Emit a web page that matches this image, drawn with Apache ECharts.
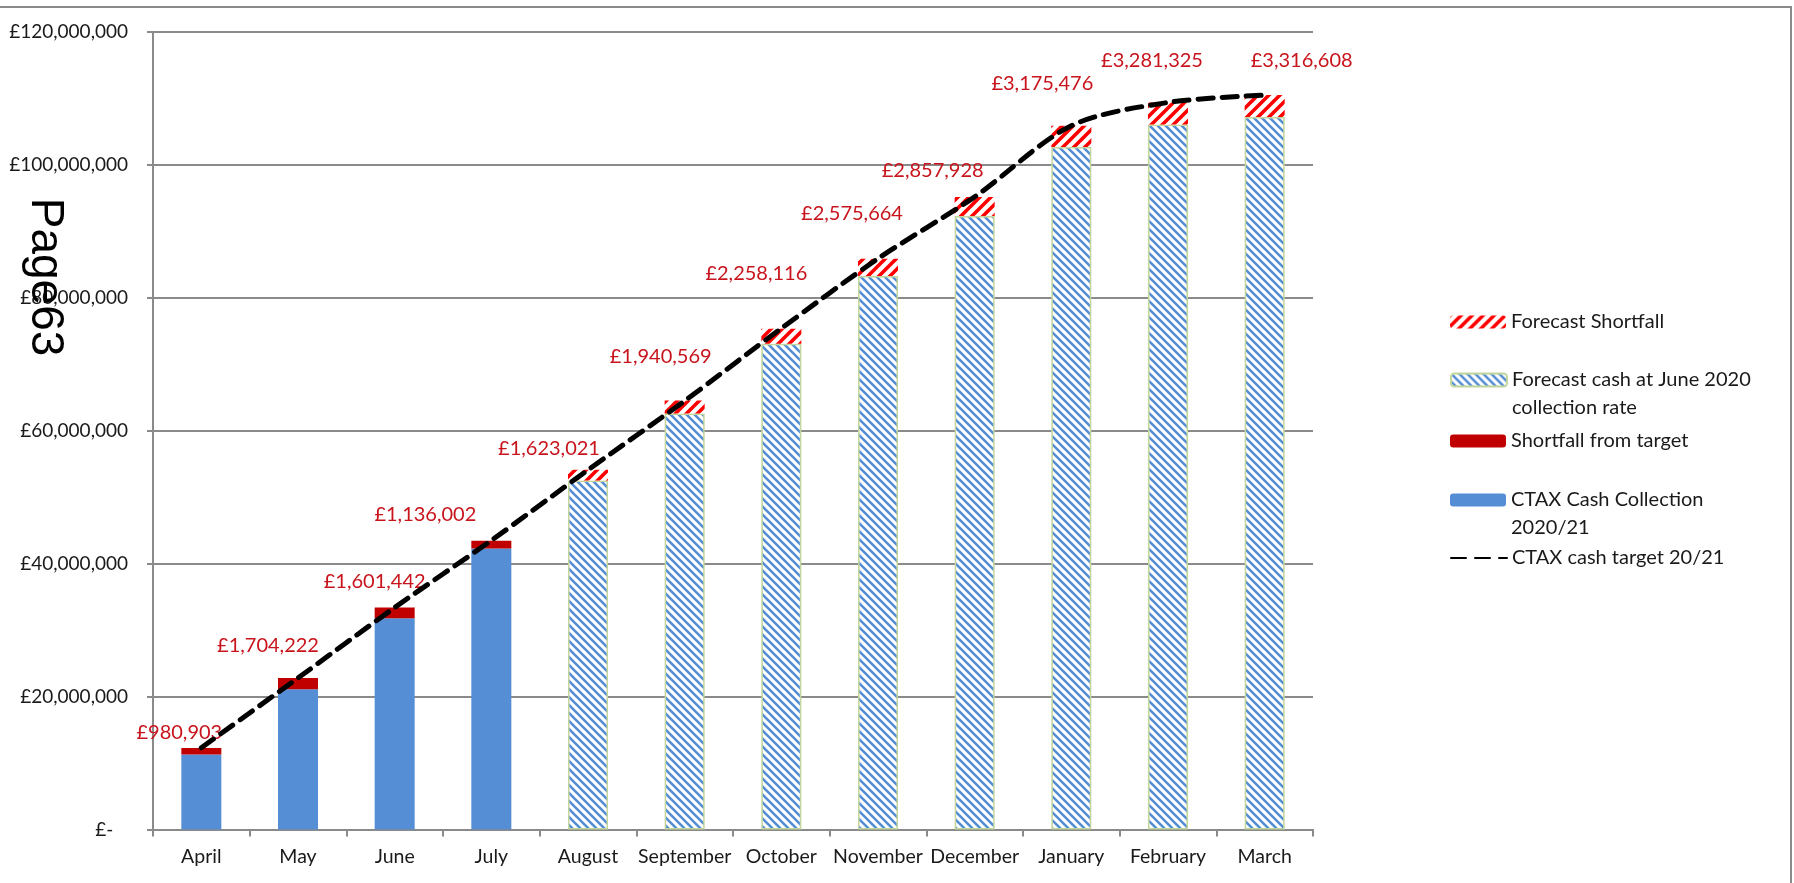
<!DOCTYPE html>
<html>
<head>
<meta charset="utf-8">
<script src="https://cdn.jsdelivr.net/npm/echarts@6/dist/echarts.min.js"></script>
<style>
  html, body { margin: 0; padding: 0; background: #fff; }
  #chart { width: 1794px; height: 883px; }
</style>
</head>
<body>
<div id="chart"></div>
<script>
// months of the 2020/21 council tax year
var months = ['April', 'May', 'June', 'July', 'August', 'September', 'October',
  'November', 'December', 'January', 'February', 'March'];

// actual cash collected (April - July)
var collected = [11300000, 21100000, 31800000, 42300000, '-', '-', '-', '-', '-', '-', '-', '-'];
// shortfall against target (actual months)
var shortfall = [980903, 1704222, 1601442, 1136002, '-', '-', '-', '-', '-', '-', '-', '-'];
// forecast cash at the June 2020 collection rate
var forecast = ['-', '-', '-', '-', 52500000, 62600000, 73100000, 83300000, 92300000, 102700000, 106100000, 107200000];
// forecast shortfall (later months)
var forecastShortfall = ['-', '-', '-', '-', 1623021, 1940569, 2258116, 2575664, 2857928, 3175476, 3281325, 3316608];
// cash target line
var target = [12300000, 22800000, 33400000, 43500000, 54100000, 64500000, 75400000, 85900000, 95200000, 105900000, 109400000, 110500000];

var yTicks = { min: 0, max: 120000000, interval: 20000000 };

// where each shortfall label sits relative to its bar top (as in the original)
var labelNudge = [[-22, 0], [-30, -17], [-20, -11], [-66, -11], [-39, -6], [-24, -29],
  [-25, -40], [-26, -30], [-42, -12], [-29, -27], [-16, -27], [37, -19]];

var FONT = 'Lato';

function money(v) {
  return '£' + String(Math.round(v)).replace(/\B(?=(\d{3})+(?!\d))/g, ',');
}

// diagonal stripe tile
function stripes(color, size, width, dir) {
  var c = document.createElement('canvas');
  c.width = size; c.height = size;
  var ctx = c.getContext('2d');
  ctx.fillStyle = '#fff';
  ctx.fillRect(0, 0, size, size);
  ctx.strokeStyle = color;
  ctx.lineWidth = width;
  ctx.beginPath();
  for (var k = -size; k <= size; k += size) {
    if (dir === 'down') { ctx.moveTo(k - 1, -1); ctx.lineTo(k + size + 1, size + 1); }
    else { ctx.moveTo(k - 1, size + 1); ctx.lineTo(k + size + 1, -1); }
  }
  ctx.stroke();
  return { image: c, repeat: 'repeat' };
}

var blueHatch = stripes('#558ed5', 8, 2.6, 'down');
var redHatch = stripes('#ff0000', 11, 3.6, 'up');

function withLabels(arr) {
  return arr.map(function (v, i) {
    if (v === '-') return v;
    return { value: v, label: { offset: labelNudge[i] } };
  });
}

var names = {
  fs: 'Forecast Shortfall',
  fc: 'Forecast cash at June 2020 collection rate',
  sf: 'Shortfall from target',
  cc: 'CTAX Cash Collection 2020/21',
  tg: 'CTAX cash target 20/21'
};
// leading blank line keeps the first line level with the key, like Excel
var wrapped = {};
wrapped[names.fc] = '\nForecast cash at June 2020\ncollection rate';
wrapped[names.cc] = '\nCTAX Cash Collection\n2020/21';

// one legend per entry, so the uneven Excel spacing can be kept
function legendAt(name, top, extra) {
  var lg = {
    data: [name],
    orient: 'vertical',
    left: 1450,
    top: top,
    padding: 0,
    itemWidth: 56,
    itemHeight: 13,
    selectedMode: false,
    formatter: function (n) { return wrapped[n] || n; },
    textStyle: { fontFamily: FONT, fontSize: 20, color: '#1a1a1a', lineHeight: 28 }
  };
  return Object.assign(lg, extra || {});
}

var labelStyle = {
  show: true,
  position: 'top',
  fontFamily: FONT,
  fontSize: 20,
  color: '#c8141c',
  formatter: function (p) { return money(p.value); }
};

var chart = echarts.init(document.getElementById('chart'));
var option = {
  backgroundColor: '#fff',
  animation: false,
  grid: { left: 153, right: 481, top: 32, bottom: 53.5 },
  graphic: [
    {
      type: 'rect',
      shape: { x: -3, y: 7, width: 1794, height: 900 },
      style: { fill: 'none', stroke: '#8a8a8a', lineWidth: 2 },
      z: 100
    },
    {
      type: 'text',
      x: 45, y: 277,
      rotation: -Math.PI / 2,
      style: {
        text: 'Page63', fontFamily: 'Liberation Sans', fontSize: 46,
        fill: '#000', align: 'center', verticalAlign: 'middle'
      },
      z: 100
    }
  ],
  legend: [
    legendAt(names.fs, 308),
    legendAt(names.fc, 338),
    legendAt(names.sf, 427),
    legendAt(names.cc, 458),
    legendAt(names.tg, 544, { itemStyle: { opacity: 0 } })
  ],
  xAxis: {
    type: 'category',
    data: months,
    axisLine: { lineStyle: { color: '#8a8a8a', width: 2 } },
    axisTick: { show: true, length: 7, lineStyle: { color: '#8a8a8a', width: 2 } },
    axisLabel: { fontFamily: FONT, fontSize: 19.5, color: '#1a1a1a', margin: 17, interval: 0 }
  },
  yAxis: {
    type: 'value',
    min: yTicks.min,
    max: yTicks.max,
    interval: yTicks.interval,
    axisLine: { show: true, lineStyle: { color: '#8a8a8a', width: 2 } },
    axisTick: { show: true, length: 6, lineStyle: { color: '#8a8a8a', width: 2 } },
    splitLine: { lineStyle: { color: '#8a8a8a', width: 2 } },
    axisLabel: {
      fontFamily: FONT, fontSize: 19, color: '#1a1a1a', margin: 25,
      formatter: function (v) { return v === 0 ? '£-   ' : money(v); }
    }
  },
  series: [
    {
      name: names.cc, type: 'bar', stack: 'actual', barWidth: 40, barGap: '-100%',
      data: collected,
      itemStyle: { color: '#558ed5' }
    },
    {
      name: names.sf, type: 'bar', stack: 'actual', barWidth: 40,
      data: withLabels(shortfall),
      itemStyle: { color: '#c00000' },
      label: labelStyle
    },
    {
      name: names.fc, type: 'bar', stack: 'forecast', barWidth: 40,
      data: forecast,
      itemStyle: { color: blueHatch, borderColor: '#c3d69b', borderWidth: 1.5 }
    },
    {
      name: names.fs, type: 'bar', stack: 'forecast', barWidth: 40,
      data: withLabels(forecastShortfall),
      itemStyle: { color: redHatch },
      label: labelStyle
    },
    {
      name: names.tg, type: 'line',
      data: target,
      smooth: 0.3,
      symbol: 'none',
      z: 5,
      itemStyle: { color: '#000' },
      lineStyle: { color: '#000', width: 5, type: [15, 9], cap: 'round' }
    }
  ]
};
chart.setOption(option);
</script>
</body>
</html>
